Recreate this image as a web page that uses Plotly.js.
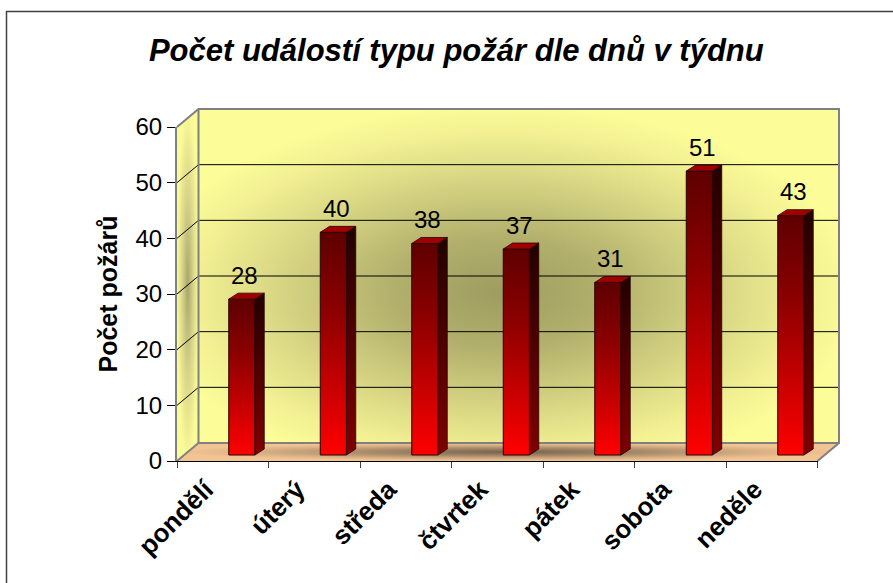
<!DOCTYPE html>
<html><head><meta charset="utf-8">
<script src="https://cdn.plot.ly/plotly-3.0.1.min.js"></script>
<style>html,body{margin:0;padding:0;background:#fff}#chart{width:893px;height:583px}</style>
</head><body><div id="chart"></div>
<script>
// ---- data ----
const categories = ['pondělí','úterý','středa','čtvrtek','pátek','sobota','neděle'];
const fires = [28,40,38,37,31,51,43];
const yTicks = [0,10,20,30,40,50,60];
const chartTitle = 'Počet událostí typu požár dle dnů v týdnu';
const yTitle = 'Počet požárů';

// ---- geometry (pixels) ----
const W = 893, H = 583;
const px = v => v / W, py = v => 1 - v / H;
const FRONT_L = 177, FRONT_R = 817.5, FRONT_BOT = 461, FRONT_TOP = 127;
const DEPTH_X = 21.5, DEPTH_Y = 18;
const YMAX = 60;
const unitPx = (FRONT_BOT - FRONT_TOP) / YMAX;
const catPx = (FRONT_R - FRONT_L) / categories.length;
const BAR_OFF = 6 / catPx, BAR_W = 26.2 / catPx, SIDE_W = 9.3 / catPx;
const DY = 6 / unitPx;            // bar front plane lifted 6px (depth)
const LABEL_DX = 22 / catPx;
const FONT = 'Liberation Sans, Arial, sans-serif';

// ---- background 3D box (walls, floor, grid) ----
const bL = FRONT_L + DEPTH_X, bR = FRONT_R + DEPTH_X, bB = FRONT_BOT - DEPTH_Y, bT = bB - YMAX * unitPx;
let grid = '';
yTicks.filter(v => v > 0 && v < YMAX).forEach(v => {
  const yb = bB - v * unitPx, yf = FRONT_BOT - v * unitPx;
  grid += `<line x1='${bL}' y1='${yb}' x2='${bR}' y2='${yb}' stroke='#000' stroke-width='1'/>`;
  grid += `<line x1='${FRONT_L}' y1='${yf}' x2='${bL}' y2='${yb}' stroke='#000' stroke-width='1'/>`;
});
const svg = `<svg xmlns='http://www.w3.org/2000/svg' width='${W}' height='${H}' viewBox='0 0 ${W} ${H}'>
<defs>
<radialGradient id='bw' cx='0.47' cy='0.55' r='0.56'>
<stop offset='0' stop-color='#9e9d60'/><stop offset='0.3' stop-color='#b2b06c'/><stop offset='0.6' stop-color='#d6d482'/><stop offset='0.85' stop-color='#f2f092'/><stop offset='1' stop-color='#fcfc98'/>
</radialGradient>
<radialGradient id='lw' cx='0.5' cy='0.5' r='0.5'>
<stop offset='0' stop-color='#a8a66a'/><stop offset='0.5' stop-color='#d6d488'/><stop offset='1' stop-color='#fbfa98'/>
</radialGradient>
<radialGradient id='fl' cx='0.5' cy='0.5' r='0.5'>
<stop offset='0' stop-color='#76624c'/><stop offset='0.4' stop-color='#a48868'/><stop offset='0.8' stop-color='#deb486'/><stop offset='1' stop-color='#f2c494'/>
</radialGradient>
</defs>
<rect x='6.5' y='11.5' width='900' height='600' fill='none' stroke='#404040' stroke-width='1.5'/>
<rect x='${bL}' y='${bT}' width='${bR - bL}' height='${bB - bT}' fill='url(#bw)'/>
<polygon points='${FRONT_L},${FRONT_TOP} ${bL},${bT} ${bL},${bB} ${FRONT_L},${FRONT_BOT}' fill='url(#lw)'/>
<polygon points='${FRONT_L},${FRONT_BOT} ${bL},${bB} ${bR},${bB} ${FRONT_R},${FRONT_BOT}' fill='url(#fl)'/>
${grid}
<g stroke='#808080' stroke-width='2' fill='none'>
<polyline points='${FRONT_L},${FRONT_TOP} ${bL},${bT} ${bR},${bT} ${bR},${bB} ${FRONT_R},${FRONT_BOT}'/>
<polyline points='${bL},${bT} ${bL},${bB} ${bR},${bB}'/>
<line x1='${FRONT_L}' y1='${FRONT_BOT}' x2='${bL}' y2='${bB}'/>
</g>
</svg>`;
const bgSource = 'data:image/svg+xml;charset=utf-8,' + encodeURIComponent(svg);

// ---- traces ----
const data = [];
// front faces: real bars on the category axis, lifted by the depth offset
data.push({
  type: 'bar', x: categories, y: fires, base: DY, xaxis: 'x', yaxis: 'y',
  width: BAR_W, offset: BAR_OFF,
  marker: {color: '#c00000', line: {color: '#2a0000', width: 1}},
  hoverinfo: 'skip', showlegend: false
});
// side and top faces on a linear overlay of the category axis
fires.forEach((v, i) => {
  const xl = i + BAR_OFF, xr = xl + BAR_W, xs = xr + SIDE_W;
  data.push({
    type: 'scatter', mode: 'lines', xaxis: 'x2', yaxis: 'y',
    x: [xr, xs, xs, xr, xr], y: [DY, 2 * DY, v + 2 * DY, v + DY, DY],
    fill: 'toself', line: {color: '#2a0000', width: 0.8},
    fillgradient: {type: 'vertical', colorscale: [[0, '#800000'], [1, '#220000']]},
    hoverinfo: 'skip', showlegend: false
  });
  data.push({
    type: 'scatter', mode: 'lines', xaxis: 'x2', yaxis: 'y',
    x: [xl, xr, xs, xl + SIDE_W, xl], y: [v + DY, v + DY, v + 2 * DY, v + 2 * DY, v + DY],
    fill: 'toself', fillcolor: '#a00000', line: {color: '#2a0000', width: 0.8},
    hoverinfo: 'skip', showlegend: false
  });
});

const layout = {
  width: W, height: H, autosize: false,
  margin: {l: 0, r: 0, t: 0, b: 0},
  paper_bgcolor: '#ffffff', plot_bgcolor: 'rgba(0,0,0,0)',
  showlegend: false,
  font: {family: FONT, color: '#000'},
  title: {
    text: chartTitle, x: 0.511, y: py(50), xref: 'paper', yref: 'paper',
    xanchor: 'center', yanchor: 'middle',
    font: {family: FONT, size: 31, weight: 'bold', style: 'italic', color: '#000'}
  },
  xaxis: {
    type: 'category', domain: [px(FRONT_L), px(FRONT_R)], anchor: 'y',
    categoryorder: 'array', categoryarray: categories,
    tickson: 'boundaries', ticks: 'outside', ticklen: 6, tickcolor: '#404040',
    tickangle: -45, tickfont: {family: FONT, size: 26, weight: 'bold'},
    ticklabelshift: -17, ticklabelstandoff: 2,
    showline: true, linecolor: '#000', linewidth: 1, showgrid: false, zeroline: false,
    range: [-0.5, categories.length - 0.5], fixedrange: true
  },
  yaxis: {
    domain: [py(FRONT_BOT), py(FRONT_TOP)], anchor: 'x', range: [0, YMAX],
    tickmode: 'array', tickvals: yTicks, ticks: 'outside', ticklen: 8, tickcolor: '#000',
    tickfont: {family: FONT, size: 24}, showline: true, linecolor: '#808080', linewidth: 2,
    showgrid: false, zeroline: false, fixedrange: true,
    title: {text: yTitle, font: {family: FONT, size: 25, weight: 'bold'}, standoff: 11}
  },
  xaxis2: {
    overlaying: 'x', anchor: 'y', range: [-0.5, categories.length - 0.5],
    visible: false, fixedrange: true
  },
  annotations: fires.map((v, i) => ({
    xref: 'x2', yref: 'y', x: i + LABEL_DX, y: v, text: String(v),
    showarrow: false, xanchor: 'center', yanchor: 'middle', yshift: 30,
    font: {family: FONT, size: 24, color: '#000'}
  })),
  images: [{
    source: bgSource, xref: 'paper', yref: 'paper', x: 0, y: 1, sizex: 1, sizey: 1,
    xanchor: 'left', yanchor: 'top', sizing: 'stretch', layer: 'below'
  }]
};

Plotly.newPlot('chart', data, layout, {staticPlot: true, displayModeBar: false}).then(gd => {
  const ns = 'http://www.w3.org/2000/svg';
  const svgEl = gd.querySelector('svg.main-svg');
  let defs = svgEl.querySelector('defs');
  if (!defs) { defs = document.createElementNS(ns, 'defs'); svgEl.insertBefore(defs, svgEl.firstChild); }
  const lg = document.createElementNS(ns, 'linearGradient');
  lg.setAttribute('id', 'barFrontGrad');
  lg.setAttribute('x1', '0'); lg.setAttribute('y1', '0'); lg.setAttribute('x2', '0'); lg.setAttribute('y2', '1');
  [[0, '#5e0000'], [0.35, '#8c0000'], [0.72, '#cc0000'], [1, '#ff0000']].forEach(([o, c]) => {
    const s = document.createElementNS(ns, 'stop');
    s.setAttribute('offset', o); s.setAttribute('stop-color', c);
    lg.appendChild(s);
  });
  defs.appendChild(lg);
  gd.querySelectorAll('.barlayer .point path').forEach(p => { p.style.fill = 'url(#barFrontGrad)'; });
});
</script>
</body></html>
